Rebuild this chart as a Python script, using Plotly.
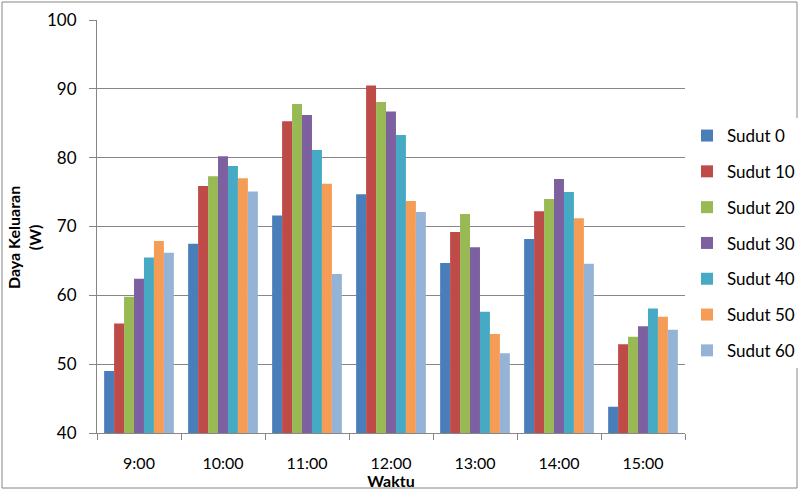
import plotly.graph_objects as go

categories = ["9:00", "10:00", "11:00", "12:00", "13:00", "14:00", "15:00"]
series_names = ["Sudut 0", "Sudut 10", "Sudut 20", "Sudut 30", "Sudut 40", "Sudut 50", "Sudut 60"]
sudut_0 = [49.0, 67.5, 71.6, 74.7, 64.7, 68.2, 43.8]
sudut_10 = [55.9, 75.9, 85.3, 90.5, 69.2, 72.2, 52.9]
sudut_20 = [59.8, 77.3, 87.8, 88.1, 71.8, 74.0, 54.0]
sudut_30 = [62.4, 80.2, 86.2, 86.7, 67.0, 76.9, 55.5]
sudut_40 = [65.5, 78.8, 81.1, 83.3, 57.6, 75.0, 58.1]
sudut_50 = [67.9, 77.0, 76.2, 73.7, 54.4, 71.2, 56.9]
sudut_60 = [66.2, 75.1, 63.1, 72.1, 51.6, 64.6, 55.0]
colors = ["#4A7EBB", "#BE4B48", "#98B954", "#7D60A0", "#46AAC5", "#F59D56", "#95B3D7"]

all_series = [sudut_0, sudut_10, sudut_20, sudut_30, sudut_40, sudut_50, sudut_60]

FONT = "Lato"
fig = go.Figure()
for i, (name, vals, col) in enumerate(zip(series_names, all_series, colors)):
    fig.add_trace(go.Bar(
        x=categories, y=vals, name=name, marker_color=col,
        marker_line_width=0, legendgroup=name,
    ))

L, R, T, B = 97, 120, 20, 57
W, H = 805, 490
pw, ph = W - L - R, H - T - B

fig.update_layout(
    width=W, height=H,
    margin=dict(l=L, r=R, t=T, b=B, autoexpand=False),
    paper_bgcolor="white", plot_bgcolor="white",
    barmode="group", bargap=0.17, bargroupgap=0,
    font=dict(family=FONT, size=17, color="#000000"),
    showlegend=True,
    legend=dict(
        x=(687 - L) / pw, y=1 - (118 - T) / ph, xanchor="left", yanchor="top",
        traceorder="grouped", tracegroupgap=10.7,
        font=dict(family=FONT, size=17, color="#000000"),
        itemwidth=30,
    ),
    xaxis=dict(
        showline=True, linecolor="#868686", linewidth=1,
        ticks="outside", tickson="boundaries", ticklen=6, tickcolor="#868686",
        tickfont=dict(size=16), ticklabelstandoff=16,
        title=dict(text="<b>Waktu</b>", font=dict(size=16), standoff=0),
    ),
    yaxis=dict(
        range=[40, 100], dtick=10,
        showline=True, linecolor="#868686", linewidth=1,
        ticks="outside", ticklen=7, tickcolor="#868686",
        showgrid=True, gridcolor="#868686", gridwidth=1,
        tickfont=dict(size=17), ticklabelstandoff=9,
        zeroline=False,
    ),
)

# y-axis title as a positioned annotation
fig.add_annotation(
    text="<b>Daya Keluaran<br>(W)</b>", xref="paper", yref="paper",
    x=(24 - L) / pw, y=1 - (238 - T) / ph, xanchor="center", yanchor="middle",
    textangle=-90, showarrow=False, font=dict(family=FONT, size=16, color="#000000"),
)

# outer chart border
fig.add_shape(type="rect", xref="paper", yref="paper",
              x0=(2 - L) / pw, x1=(797 - L) / pw,
              y0=1 - (488 - T) / ph, y1=1 - (2 - T) / ph,
              line=dict(color="#868686", width=1), fillcolor="rgba(0,0,0,0)", layer="below")

fig.write_html("out.html")
